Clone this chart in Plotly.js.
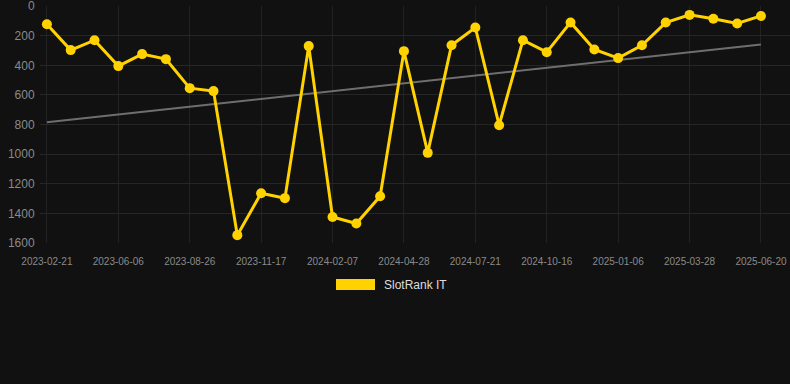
<!DOCTYPE html>
<html>
<head>
<meta charset="utf-8">
<script src="https://cdn.plot.ly/plotly-3.0.1.min.js"></script>
<style>
html,body{margin:0;padding:0;background:#111111;}
#chart{width:790px;height:384px;}
</style>
</head>
<body>
<div id="chart"></div>
<script>
const dates = [
  "2023-02-21","2023-03-28","2023-05-02","2023-06-06","2023-07-03","2023-07-30",
  "2023-08-26","2023-09-23","2023-10-20","2023-11-17","2023-12-14","2024-01-10",
  "2024-02-07","2024-03-05","2024-04-01","2024-04-28","2024-05-26","2024-06-23",
  "2024-07-21","2024-08-19","2024-09-17","2024-10-16","2024-11-13","2024-12-10",
  "2025-01-06","2025-02-02","2025-03-01","2025-03-28","2025-04-25","2025-05-23",
  "2025-06-20"
];
const ranks = [
  122, 297, 230, 405, 324, 358,
  554, 574, 1547, 1264, 1297, 270,
  1424, 1468, 1284, 304, 991, 264,
  144, 804, 230, 311, 110, 293,
  351, 264, 111, 59, 85, 117,
  66
];
const tickLabels = ["2023-02-21","2023-06-06","2023-08-26","2023-11-17","2024-02-07",
  "2024-04-28","2024-07-21","2024-10-16","2025-01-06","2025-03-28","2025-06-20"];
const trendDates = ["2023-02-21","2025-06-20"];
const trendValues = [784, 259];
const yTicks = [0,200,400,600,800,1000,1200,1400,1600];
const seriesName = "SlotRank IT";

const gold = "#ffd200";

const traces = [
  {
    x: trendDates, y: trendValues, type: "scatter", mode: "lines",
    line: {color: "#6e6e6e", width: 2}, hoverinfo: "skip", showlegend: false
  },
  {
    x: dates, y: ranks, type: "scatter", mode: "lines+markers", name: seriesName,
    line: {color: gold, width: 3},
    marker: {color: gold, size: 10},
    showlegend: false
  }
];

const layout = {
  width: 790, height: 384,
  paper_bgcolor: "#111111", plot_bgcolor: "#111111",
  margin: {l: 40, r: 0, t: 6, b: 141},
  showlegend: false,
  font: {family: "Liberation Sans, Arial, sans-serif", color: "#8a8a8a"},
  xaxis: {
    type: "category",
    categoryorder: "array", categoryarray: dates,
    range: [-0.29, 31.22],
    tickvals: tickLabels, ticktext: tickLabels,
    showgrid: true, gridcolor: "#222222", gridwidth: 1,
    zeroline: false, showline: false,
    ticks: "outside", ticklen: 9, tickcolor: "rgba(0,0,0,0)",
    tickfont: {size: 10, color: "#8a8a8a"},
    fixedrange: true
  },
  yaxis: {
    range: [1600, -1],
    tickvals: yTicks,
    showgrid: true, gridcolor: "#262626", gridwidth: 1,
    zeroline: false, showline: false,
    ticks: "outside", ticklen: 2, tickcolor: "rgba(0,0,0,0)",
    tickfont: {size: 12, color: "#8a8a8a"},
    ticklabeloverflow: "allow",
    fixedrange: true
  },
  shapes: [
    {type: "rect", xref: "paper", yref: "paper",
     x0: (336-40)/750, x1: (375-40)/750,
     y0: (384-141-290)/237, y1: (384-141-279)/237,
     fillcolor: gold, line: {width: 0}}
  ],
  annotations: [
    {xref: "paper", yref: "paper", x: (382-40)/750, y: (384-141-285)/237,
     xanchor: "left", yanchor: "middle", showarrow: false,
     text: seriesName, font: {size: 12, color: "#dddddd"}}
  ]
};

Plotly.newPlot("chart", traces, layout, {displayModeBar: false, staticPlot: true});
</script>
</body>
</html>
